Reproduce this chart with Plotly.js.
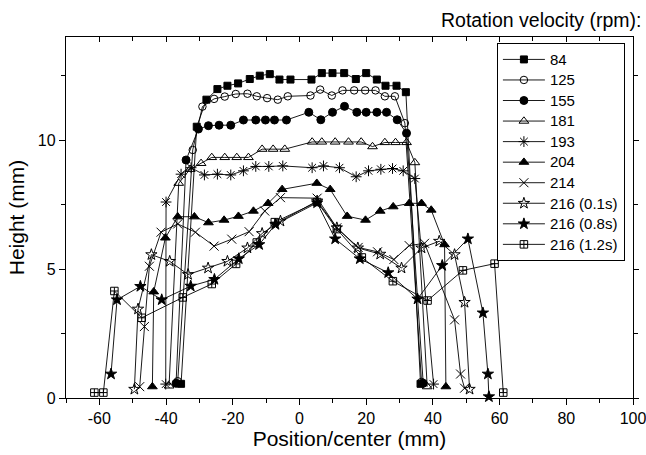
<!DOCTYPE html>
<html>
<head>
<meta charset="utf-8">
<script src="https://cdn.plot.ly/plotly-3.0.1.min.js"></script>
<style>
html,body{margin:0;padding:0;background:#fff;}
#chart{width:646px;height:455px;}
</style>
</head>
<body>
<div id="chart"></div>
<script>
// ---- data ----
var seriesNames = ["84", "125", "155", "181", "193", "204", "214", "216 (0.1s)", "216 (0.8s)", "216 (1.2s)"];

var x84 = [-35.5, -30.8, -27.9, -24.6, -21.6, -18.4, -14.9, -11.9, -8.9, -6.0, -2.7, 3.6, 6.7, 9.9, 13.4, 16.9, 20.0, 23.2, 25.8, 29.1, 31.9, 36.3];
var y84 = [0.55, 10.52, 11.57, 11.98, 12.11, 12.2, 12.37, 12.5, 12.56, 12.35, 12.35, 12.35, 12.6, 12.6, 12.6, 12.37, 12.6, 12.35, 12.11, 12.11, 11.86, 0.55];

var x125 = [-36.5, -32.0, -29.1, -25.6, -22.4, -19.1, -15.6, -12.8, -9.7, -6.5, -3.5, 3.3, 6.2, 9.7, 12.9, 16.4, 19.7, 22.8, 25.6, 28.6, 31.6, 36.6];
var y125 = [0.65, 9.62, 11.3, 11.6, 11.69, 11.79, 11.8, 11.7, 11.63, 11.57, 11.7, 11.73, 11.96, 11.73, 11.93, 11.93, 11.93, 11.93, 11.7, 11.7, 10.66, 0.62];

var x155 = [-37.0, -34.0, -30.3, -27.3, -24.1, -20.6, -16.8, -13.1, -10.2, -7.5, -3.9, 2.8, 6.4, 9.9, 13.5, 17.2, 20.0, 23.2, 26.1, 29.3, 32.1, 37.1];
var y155 = [0.57, 9.23, 10.43, 10.56, 10.58, 10.58, 10.78, 10.78, 10.78, 10.78, 10.78, 11.08, 10.79, 11.08, 11.31, 11.08, 11.08, 11.08, 11.08, 10.79, 10.27, 0.57];

var x181 = [-39.1, -36.2, -32.8, -29.5, -26.3, -22.4, -18.8, -15.3, -11.2, -7.9, -4.4, 3.8, 6.7, 10.7, 14.7, 18.5, 21.9, 25.6, 28.8, 32.1, 34.6, 38.3];
var y181 = [0.47, 8.33, 8.87, 9.1, 9.33, 9.33, 9.33, 9.33, 9.65, 9.65, 9.65, 9.93, 9.93, 9.93, 9.93, 9.93, 9.75, 9.91, 9.91, 9.91, 9.13, 0.44];

var x193 = [-40.1, -40.0, -35.5, -32.5, -28.5, -24.6, -20.6, -16.8, -13.1, -9.2, -5.0, 3.8, 7.2, 12.0, 17.0, 20.7, 24.4, 27.9, 31.1, 34.6, 40.2];
var y193 = [0.54, 7.6, 8.68, 8.93, 8.65, 8.68, 8.65, 8.81, 8.98, 8.98, 9.0, 8.93, 9.0, 8.93, 8.58, 8.81, 8.87, 8.9, 8.81, 8.51, 0.54];

var x204 = [-44.1, -43.7, -40.2, -36.5, -31.5, -27.3, -22.6, -18.3, -13.8, -9.4, -5.2, 5.2, 9.2, 14.3, 19.8, 24.2, 28.1, 32.9, 36.6, 39.5, 43.5, 43.9];
var y204 = [0.44, 4.12, 6.21, 7.03, 7.03, 6.8, 6.9, 7.05, 7.25, 7.55, 8.09, 8.33, 8.09, 7.05, 6.9, 7.25, 7.42, 7.55, 7.55, 7.29, 5.95, 0.44];

var x214 = [-47.9, -46.5, -45.0, -41.5, -36.5, -31.2, -25.6, -20.3, -15.1, -10.4, -5.7, 5.3, 11.2, 17.6, 23.4, 28.3, 32.9, 37.5, 46.5, 48.3, 49.5];
var y214 = [0.44, 2.77, 5.11, 6.43, 6.75, 6.43, 5.89, 6.16, 6.45, 7.25, 7.77, 7.75, 6.6, 5.84, 5.67, 5.37, 5.91, 6.0, 3.03, 0.93, 0.38];

var x216a = [-49.5, -48.4, -44.4, -38.9, -33.4, -27.4, -21.6, -15.6, -11.2, -5.7, 5.3, 11.2, 17.5, 24.2, 30.6, 36.6, 41.9, 46.5, 49.5, 51.0];
var y216a = [0.34, 3.45, 5.56, 5.3, 4.79, 5.04, 5.3, 5.82, 6.38, 6.86, 7.64, 6.6, 5.82, 5.58, 5.04, 5.82, 6.08, 5.56, 3.71, 0.34];

var x216b = [-56.5, -54.7, -47.7, -41.3, -32.6, -25.5, -18.2, -12.1, -7.2, 5.3, 10.7, 18.1, 26.6, 35.4, 42.8, 50.5, 55.0, 56.5, 56.8];
var y216b = [0.93, 3.81, 4.33, 3.81, 4.34, 4.6, 5.4, 5.95, 6.73, 7.57, 6.17, 5.4, 4.86, 3.84, 5.14, 6.17, 3.3, 0.93, 0.05];

var x216c = [-61.5, -58.8, -55.5, -47.3, -35.0, -26.3, -19.0, -12.8, -7.4, 5.3, 11.2, 18.7, 28.0, 38.4, 49.0, 58.5, 61.1];
var y216c = [0.21, 0.21, 4.15, 3.11, 3.9, 4.42, 5.2, 6.03, 6.82, 7.6, 6.55, 5.45, 4.53, 3.78, 4.95, 5.21, 0.21];

var xTickVals = [-60, -40, -20, 0, 20, 40, 60, 80, 100];
var yTickVals = [0, 5, 10];

// ---- styles ----
var xs = [x84, x125, x155, x181, x193, x204, x214, x216a, x216b, x216c];
var ys = [y84, y125, y155, y181, y193, y204, y214, y216a, y216b, y216c];
var symbols = ["square", "circle-open", "circle", "triangle-up-open", "asterisk-open", "triangle-up", "x-thin-open", "star-open", "star", "square-cross-open"];
var sizes = [7, 7.5, 8, 8.5, 9, 8.5, 9, 8.5, 8.5, 7.5];

var FONT = "Liberation Sans, Arial, Helvetica, sans-serif";
var traces = [];
for (var i = 0; i < xs.length; i++) {
  traces.push({
    type: "scatter",
    mode: "lines+markers",
    name: seriesNames[i],
    x: xs[i],
    y: ys[i],
    line: {color: "#000", width: 0.9},
    marker: {symbol: symbols[i], size: sizes[i], color: "#000", line: {color: "#000", width: 1}},
    cliponaxis: false
  });
}
// helper trace for the mirrored top/right axes
traces.push({type: "scatter", mode: "markers", x: [null], y: [null], xaxis: "x2", yaxis: "y2", showlegend: false, hoverinfo: "skip"});

var layout = {
  width: 646,
  height: 455,
  margin: {l: 66, r: 13, t: 37, b: 57},
  paper_bgcolor: "#fff",
  plot_bgcolor: "#fff",
  font: {family: FONT, size: 15, color: "#000"},
  showlegend: true,
  title: {
    text: "Rotation velocity (rpm):",
    font: {family: FONT, size: 19.5, color: "#000"},
    xref: "container", x: 0.993, xanchor: "right",
    yref: "container", y: 0.955, yanchor: "middle"
  },
  legend: {
    x: 0.760, y: 0.983, xanchor: "left", yanchor: "top",
    bgcolor: "#fff", bordercolor: "#000", borderwidth: 1,
    font: {family: FONT, size: 13.5, color: "#000"},
    itemwidth: 42,
    tracegroupgap: 0
  },
  xaxis: {
    range: [-70, 100],
    tickvals: xTickVals,
    ticktext: xTickVals.map(String),
    ticks: "outside", ticklen: 6, tickwidth: 1, tickcolor: "#000",
    minor: {dtick: 10, tick0: 0, ticks: "outside", ticklen: 4, tickwidth: 1, tickcolor: "#000"},
    showline: true, linecolor: "#000", linewidth: 1.2,
    showgrid: false, zeroline: false,
    ticklabeloverflow: "allow",
    tickfont: {family: FONT, size: 16, color: "#000"},
    title: {text: "Position/center (mm)", font: {family: FONT, size: 21, color: "#000"}, standoff: 3}
  },
  yaxis: {
    range: [0, 14],
    tickvals: yTickVals,
    ticktext: yTickVals.map(String),
    ticks: "outside", ticklen: 6, tickwidth: 1, tickcolor: "#000",
    minor: {dtick: 2.5, tick0: 0, ticks: "outside", ticklen: 4, tickwidth: 1, tickcolor: "#000"},
    showline: true, linecolor: "#000", linewidth: 1.2,
    showgrid: false, zeroline: false,
    tickfont: {family: FONT, size: 16, color: "#000"},
    title: {text: "Height (mm)", font: {family: FONT, size: 21, color: "#000"}, standoff: 7}
  },
  xaxis2: {
    overlaying: "x", side: "top", anchor: "y2",
    range: [-70, 100],
    tickvals: xTickVals,
    ticks: "inside", ticklen: 5, tickwidth: 1, tickcolor: "#000",
    minor: {dtick: 10, tick0: 0, ticks: "inside", ticklen: 4, tickwidth: 1, tickcolor: "#000"},
    showticklabels: false,
    showline: true, linecolor: "#000", linewidth: 1.2,
    showgrid: false, zeroline: false
  },
  yaxis2: {
    overlaying: "y", side: "right", anchor: "x2",
    range: [0, 14],
    tickvals: yTickVals,
    ticks: "outside", ticklen: 5, tickwidth: 1, tickcolor: "#000",
    minor: {dtick: 2.5, tick0: 0, ticks: "outside", ticklen: 4, tickwidth: 1, tickcolor: "#000"},
    showticklabels: false,
    showline: true, linecolor: "#000", linewidth: 1.2,
    showgrid: false, zeroline: false
  }
};

Plotly.newPlot("chart", traces, layout, {staticPlot: true, displayModeBar: false}).then(function (gd) {
  // enlarge legend text while keeping the compact row spacing of the reference
  var leg = gd.querySelector(".legend");
  if (!leg) return;
  var texts = leg.querySelectorAll("text.legendtext");
  var maxRight = 0;
  texts.forEach(function (t) {
    t.style.fontSize = "15px";
    var x = parseFloat(t.getAttribute("x")) || 0;
    maxRight = Math.max(maxRight, x + t.getComputedTextLength());
  });
  var newW = Math.ceil(maxRight + 7);
  var bg = leg.querySelector("rect.bg");
  if (bg) bg.setAttribute("width", newW);
  var defs = gd.querySelectorAll("clipPath");
  defs.forEach(function (cp) {
    if (cp.id && cp.id.indexOf("legend") === 0) {
      var r = cp.querySelector("rect");
      if (r) r.setAttribute("width", newW + 2);
    }
  });
});
</script>
</body>
</html>
